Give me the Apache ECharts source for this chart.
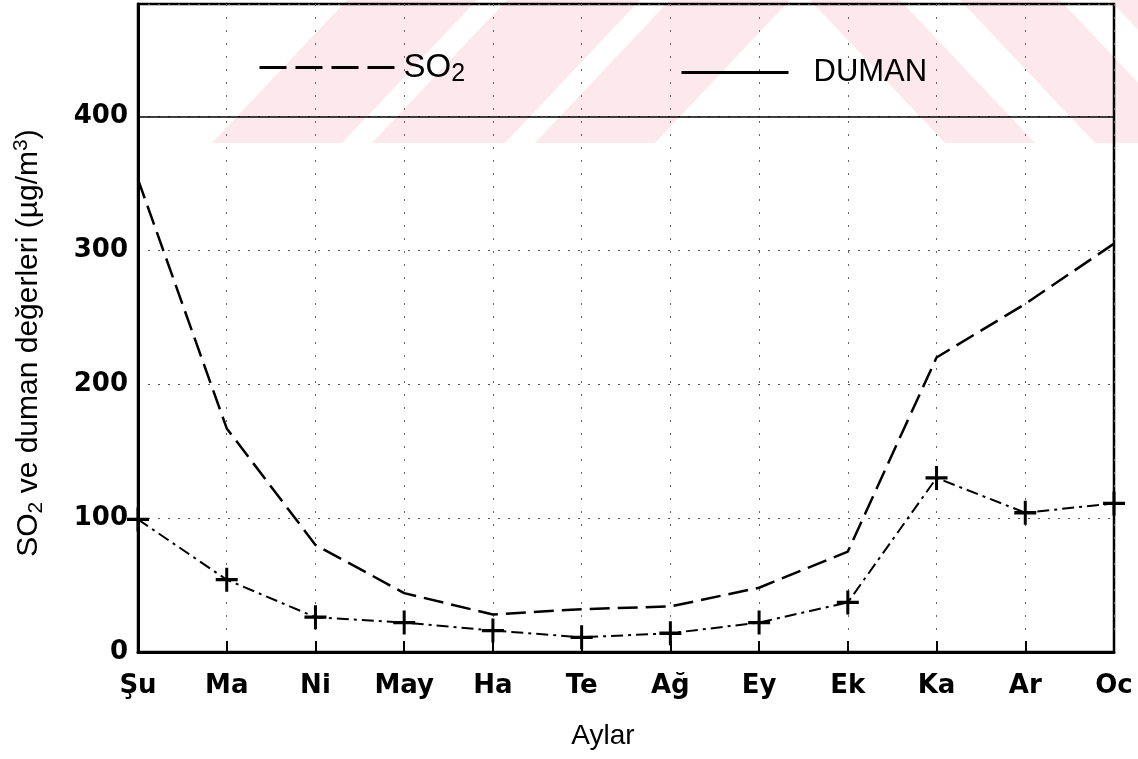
<!DOCTYPE html>
<html><head><meta charset="utf-8">
<script src="https://cdn.jsdelivr.net/npm/echarts@6/dist/echarts.min.js"></script>
<style>html,body{margin:0;padding:0;background:#fff}#c{width:1138px;height:759px}</style>
</head><body><div id="c"></div>
<script>
const months = ['Şu','Ma','Ni','May','Ha','Te','Ağ','Ey','Ek','Ka','Ar','Oc'];
const so2 = [353, 167, 80, 44, 28, 32, 34, 48, 75, 220, 260, 305];
const duman = [99, 54, 26, 22, 16, 11, 14, 22, 37, 130, 104, 111];
const yTicks = [0, 100, 200, 300, 400];
const refLine = 400;

const pink = '#fde9ed';
function band(t0, t1, shift) {
  return { type: 'polygon', silent: true, z: -10,
    shape: { points: [[t0, 0], [t1, 0], [t1 + shift, 143], [t0 + shift, 143]] },
    style: { fill: pink } };
}
const plus = 'path://M9.5,0h3v9.5h9.5v3h-9.5v9.5h-3v-9.5h-9.5v-3h9.5z';
const sansReg = 'Liberation Sans';

const chart = echarts.init(document.getElementById('c'), null, { renderer: 'canvas' });
chart.setOption({
  backgroundColor: '#fff',
  animation: false,
  graphic: [
    band(347, 477, -135), band(507, 640, -135), band(670, 790, -135),
    band(810, 900, 135), band(960, 1060, 135), band(1110, 1200, 135)
  ],
  grid: { left: 138, right: 24, top: 4, bottom: 107, show: true, borderColor: '#000', borderWidth: 2.5, backgroundColor: 'transparent' },
  legend: [
    { left: 253, top: 46, itemWidth: 135, itemHeight: 14, itemGap: 10,
      data: [{ name: 'SO₂', lineStyle: { type: [27, 9], width: 3 } }],
      formatter: () => '{a|SO}{s|2}',
      itemStyle: { color: 'rgba(0,0,0,0)', borderWidth: 0 },
      textStyle: { color: '#000', padding: [0, 0, 0, 4],
        rich: { a: { fontFamily: sansReg, fontSize: 33, lineHeight: 38, color: '#000' },
                s: { fontFamily: sansReg, fontSize: 25, lineHeight: 25, verticalAlign: 'bottom', color: '#000' } } } },
    { left: 675, top: 52, itemWidth: 107, itemHeight: 14,
      data: [{ name: 'DUMAN', lineStyle: { type: 'solid', width: 3 } }],
      itemStyle: { color: 'rgba(0,0,0,0)', borderWidth: 0 },
      textStyle: { fontFamily: sansReg, fontSize: 31, color: '#000', padding: [0, 0, 0, 20] } }
  ],
  xAxis: {
    type: 'category', data: months, boundaryGap: false,
    name: 'Aylar', nameLocation: 'middle', nameGap: 70,
    nameTextStyle: { fontFamily: sansReg, fontSize: 28, color: '#000', padding: [0, 46, 0, 0] },
    axisLine: { lineStyle: { color: '#000', width: 3 } },
    axisTick: { show: true, inside: true, length: 11, lineStyle: { color: '#000', width: 2 } },
    axisLabel: { fontFamily: 'DejaVu Sans', fontWeight: 'bold', fontSize: 26, color: '#000', margin: 21 },
    splitLine: { show: true, lineStyle: { color: '#666', width: 1, type: [2, 11] } }
  },
  yAxis: {
    type: 'value', min: 0, max: 484, interval: 100,
    name: '{a|SO}{s|2}{a| ve duman değerleri (µg/m}{p|3}{a|)}', nameLocation: 'middle', nameGap: 91,
    nameTextStyle: { color: '#000', padding: [0, 30, 0, 0],
      rich: { a: { fontFamily: sansReg, fontSize: 30, lineHeight: 36, color: '#000' },
              s: { fontFamily: sansReg, fontSize: 21, lineHeight: 21, verticalAlign: 'bottom', color: '#000' },
              p: { fontFamily: sansReg, fontSize: 21, lineHeight: 21, verticalAlign: 'top', color: '#000' } } },
    axisLine: { show: true, lineStyle: { color: '#000', width: 3 } },
    axisTick: { show: false },
    axisLabel: { fontFamily: 'DejaVu Sans', fontWeight: 'bold', fontSize: 26, color: '#000', margin: 10,
      formatter: v => yTicks.indexOf(v) >= 0 ? String(v) : '' },
    splitLine: { show: true, lineStyle: { color: '#555', width: 1, type: [2, 8] } }
  },
  series: [
    { name: 'SO₂', type: 'line', data: so2, symbol: 'none',
      lineStyle: { color: '#000', width: 2.5, type: [20, 8] },
      markLine: { silent: true, symbol: 'none', label: { show: false },
        lineStyle: { color: '#000', type: 'solid', width: 1.5 },
        data: [{ yAxis: refLine }] } },
    { name: 'DUMAN', type: 'line', data: duman, symbol: plus, symbolSize: [22, 24],
      itemStyle: { color: '#000' },
      lineStyle: { color: '#000', width: 2, type: [12, 5, 3, 5] } }
  ]
});
</script></body></html>
